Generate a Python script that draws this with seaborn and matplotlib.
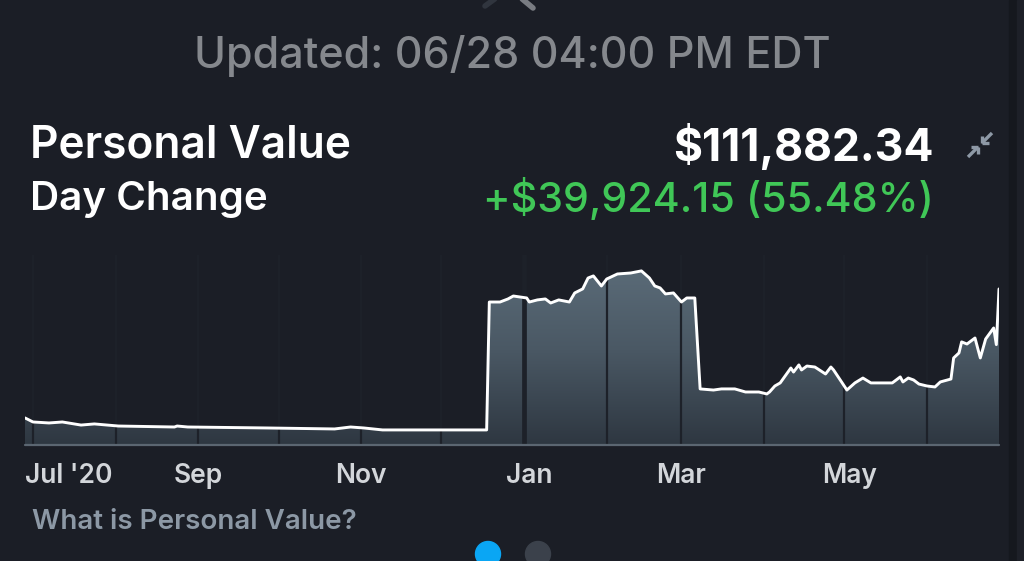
import numpy as np
import pandas as pd
import matplotlib
matplotlib.use("Agg")
import matplotlib.pyplot as plt
import matplotlib.dates as mdates
from matplotlib.colors import LinearSegmentedColormap
from matplotlib.patches import Ellipse, Rectangle
from matplotlib.lines import Line2D
import seaborn as sns

# ---------------- data ----------------
start_date = "2020-06-28"
day_offsets = [0, 3, 9, 14, 21, 26, 35, 56, 57, 61, 91, 116, 122, 127, 134, 173,
               174, 178, 181, 183, 188, 189, 192, 195, 197, 200, 204, 206, 209, 211,
               213, 216, 218, 222, 227, 231, 234, 236, 238, 240, 243, 246, 248, 251,
               253, 258, 261, 266, 270, 275, 278, 279, 281, 283, 287, 288, 290, 291,
               293, 296, 300, 302, 303, 306, 308, 311, 314, 317, 325, 328, 329, 331,
               333, 335, 338, 341, 343, 347, 348, 350, 351, 353, 356, 357, 358, 360,
               363, 364, 365]
values = [19400, 16500, 15800, 16500, 14300, 15100, 13600, 12900, 13600, 12900,
          12200, 11500, 12900, 12200, 10800, 10800,
          102500, 102500, 104700, 106800, 105400, 102500, 104000, 104700, 101800,
          104000, 102500, 109000, 111900, 119700, 121200, 114000, 119000, 122600,
          123300, 124800, 119700, 114000, 112600, 108300, 109000, 102500, 105400,
          105400,
          40200, 39400, 40200, 40200, 38000, 38000, 36600, 38000, 42300, 44500,
          55200, 52300, 57400, 53800, 56600, 55900, 50900, 55900, 53800, 45200,
          39400, 44500, 48000, 44500, 44500, 48800, 45200, 48000, 46600, 43700,
          42300, 41600, 45200, 47300, 62400, 66000, 73900, 72400, 76700, 69500,
          62400, 76000, 83900, 71958.19, 111882.34]
month_lines = ["2020-07-01", "2020-08-01", "2020-09-01", "2020-10-01", "2020-11-01",
               "2020-12-01", "2021-01-01", "2021-02-01", "2021-03-01", "2021-04-01",
               "2021-05-01", "2021-06-01"]
tick_dates = ["2020-06-28", "2020-09-01", "2020-11-01", "2021-01-03", "2021-03-01", "2021-05-03"]
tick_labels = ["Jul '20", "Sep", "Nov", "Jan", "Mar", "May"]

title_left = "Personal Value"
sub_left = "Day Change"
value_text = "$111,882.34"
change_text = "+$39,924.15 (55.48%)"
updated_text = "Updated: 06/28 04:00 PM EDT"
link_text = "What is Personal Value?"

df = pd.DataFrame({
    "date": pd.to_datetime(start_date) + pd.to_timedelta(day_offsets, unit="D"),
    "value": values,
})

# ---------------- style ----------------
BG = "#1b1e26"
sns.set_theme(style="dark", rc={
    "figure.facecolor": BG, "axes.facecolor": BG, "savefig.facecolor": BG,
    "axes.edgecolor": BG, "axes.grid": False,
})
plt.rcParams["font.family"] = ["Inter", "DejaVu Sans"]

W, H = 1024, 561
fig = plt.figure(figsize=(W / 100, H / 100), dpi=100)

def fx(px):
    return px / W

def fy(py):
    return 1 - py / H

ax_left, ax_right, ax_top, ax_bottom = 25, 999, 255, 445
ax = fig.add_axes([fx(ax_left), fy(ax_bottom), (ax_right - ax_left) / W, (ax_bottom - ax_top) / H])
ax.set_facecolor(BG)

xnum = mdates.date2num(df["date"])
ymax = 136200
ax.set_xlim(xnum[0], xnum[-1])
ax.set_ylim(0, ymax)

# gradient area fill
poly = ax.fill_between(df["date"], 0, df["value"], color="none", lw=0)
cmap = LinearSegmentedColormap.from_list("g", ["#2e3741", "#4a5864", "#5d6e7b"])
grad = np.linspace(0, 1, 256).reshape(-1, 1)
im = ax.imshow(grad, cmap=cmap, aspect="auto", origin="lower",
               extent=[xnum[0], xnum[-1], 0, ymax], zorder=1)
path = poly.get_paths()[0]
im.set_clip_path(path, transform=ax.transData)

# month separators
for m in month_lines:
    lw = 3.4 if m == "2021-01-01" else 1.6
    ax.axvline(pd.to_datetime(m), color="#1d2129", lw=lw, zorder=2)

# line
sns.lineplot(data=df, x="date", y="value", ax=ax, color="white", lw=2.1, zorder=3)
ax.set_xlim(xnum[0], xnum[-1])
ax.set_ylim(0, ymax)

# bottom baseline
ax.axhline(0, color="#5b6671", lw=1.6, zorder=4, clip_on=False)

ax.set_xlabel("")
ax.set_ylabel("")
ax.set_yticks([])
ax.set_xticks(pd.to_datetime(tick_dates))
ax.set_xticklabels(tick_labels)
ax.tick_params(axis="x", length=0, pad=13, labelsize=19, labelcolor="#d3d6da")
for lab in ax.get_xticklabels():
    lab.set_fontweight("semibold")
ax.get_xticklabels()[0].set_horizontalalignment("left")
for s in ax.spines.values():
    s.set_visible(False)

# ---------------- texts ----------------
fig.text(fx(512), fy(56), updated_text, ha="center", va="center", fontsize=31,
         color="#85888d", fontweight="medium")
fig.text(fx(30), fy(146), title_left, ha="left", va="center", fontsize=31.8,
         color="white", fontweight="semibold")
fig.text(fx(30), fy(200), sub_left, ha="left", va="center", fontsize=29,
         color="white", fontweight="semibold")
fig.text(fx(934), fy(146), value_text, ha="right", va="center", fontsize=32,
         color="white", fontweight="bold")
fig.text(fx(934), fy(198), change_text, ha="right", va="center", fontsize=29.7,
         color="#40c757", fontweight="medium")
fig.text(fx(32), fy(522), link_text, ha="left", va="center", fontsize=20,
         color="#8c98a5", fontweight="semibold")

# compress icon
icon_c = "#8e99a6"
for xs, ys in [([992, 982], [133, 143]), ([982, 982], [143, 136]), ([982, 989], [143, 143]),
               ([968, 978], [157, 147]), ([978, 978], [147, 154]), ([978, 971], [147, 147])]:
    fig.add_artist(Line2D([fx(v) for v in xs], [fy(v) for v in ys], transform=fig.transFigure,
                          color=icon_c, lw=2.4, solid_capstyle="butt"))

# top partial icon
fig.add_artist(Line2D([fx(485), fx(496)], [fy(6), fy(-2)], transform=fig.transFigure,
                      color="#30353e", lw=4, solid_capstyle="round"))
fig.add_artist(Line2D([fx(521), fx(533)], [fy(-2), fy(8)], transform=fig.transFigure,
                      color="#797c82", lw=4, solid_capstyle="round"))

# page dots
fig.add_artist(Ellipse((fx(488), fy(554)), 25 / W, 25 / H, transform=fig.transFigure,
                       color="#0aa6f4"))
fig.add_artist(Ellipse((fx(538), fy(554)), 25 / W, 25 / H, transform=fig.transFigure,
                       color="#3b414b"))

# right edge strip
fig.add_artist(Rectangle((fx(1009), 0), 8 / W, 1, transform=fig.transFigure,
                         color="#15181e", zorder=0))
fig.add_artist(Rectangle((fx(1017), 0), 7 / W, 1, transform=fig.transFigure,
                         color="#1d2028", zorder=0))

fig.savefig("out.png", dpi=100)
